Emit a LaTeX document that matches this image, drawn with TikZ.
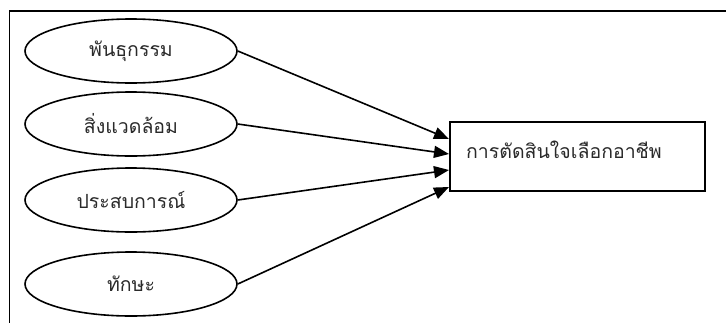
\documentclass[tikz,border=0pt]{standalone}
\usepackage{fontspec}
\newfontfamily\thaifont[Script=Thai]{Loma}
\usetikzlibrary{shapes.geometric,arrows.meta}
\definecolor{txt}{HTML}{2a2a2a}
\tikzset{
  factor/.style={ellipse,draw=black,line width=1.6pt,minimum width=212pt,minimum height=64pt,inner sep=0pt,font=\thaifont\fontsize{19.5}{22}\selectfont,text=txt},
  outbox/.style={rectangle,draw=black,line width=1.6pt,minimum width=255pt,minimum height=69pt,inner sep=0pt},
  conn/.style={line width=1.6pt,-{Triangle[length=15pt,width=12pt]}},
  lbl/.style={font=\thaifont\fontsize{19.5}{22}\selectfont,text=txt,inner sep=0pt}
}
\begin{document}
\begin{tikzpicture}[x=1pt,y=-1pt]
\useasboundingbox (0,0) rectangle (726,322);
\clip (0,0) rectangle (726,322);
\fill[white] (0,0) rectangle (726,322);
\draw[line width=1.6pt] (9.5,11) rectangle (760,360);
\node[factor] (e1) at (131,51) {พันธุกรรม};
\node[factor] (e2) at (131,124) {สิ่งแวดล้อม};
\node[factor] (e3) at (131,200) {ประสบการณ์};
\node[factor] (e4) at (131,284) {ทักษะ};
\node[outbox] (box) at (577.5,156.5) {};
\node[lbl] (t) at (564,150) {การตัดสินใจเลือกอาชีพ};
\coordinate (p1) at (449,139);
\coordinate (p2) at (449,154);
\coordinate (p3) at (449,170);
\coordinate (p4) at (449,187);
\draw[conn] (e1.east) -- (p1);
\draw[conn] (e2.east) -- (p2);
\draw[conn] (e3.east) -- (p3);
\draw[conn] (e4.east) -- (p4);
\end{tikzpicture}
\end{document}
